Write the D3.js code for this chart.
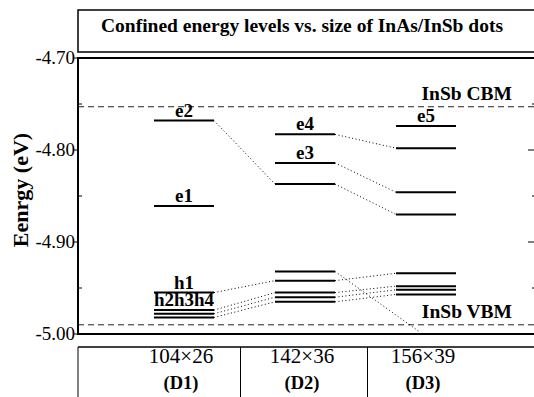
<!DOCTYPE html>
<html>
<head>
<meta charset="utf-8">
<script src="https://cdn.jsdelivr.net/npm/d3@7"></script>
<style>
  body { margin: 0; background: #fff; }
  svg text { font-family: "Liberation Serif", "Times New Roman", Times, "DejaVu Serif", serif; fill: #000; }
</style>
</head>
<body>
<div id="chart"></div>
<script>
// dots and their sizes
const dots = ["D1", "D2", "D3"];
const dotSizes = ["104\u00d726", "142\u00d736", "156\u00d739"];

// confined levels (eV) per dot
const electronLevels = [
  [-4.768, -4.861],
  [-4.783, -4.814, -4.837],
  [-4.774, -4.798, -4.846, -4.870]
];
const holeLevels = [
  [-4.955, -4.974, -4.978, -4.982],
  [-4.932, -4.942, -4.955, -4.960, -4.965],
  [-4.934, -4.948, -4.952, -4.957]
];

// band edges of the InSb matrix
const cbm = -4.753;
const vbm = -4.990;

// level labels: [dot index, energy, text]
const levelLabels = [
  [0, -4.768, "e2"], [0, -4.861, "e1"],
  [1, -4.783, "e4"], [1, -4.814, "e3"],
  [2, -4.774, "e5"],
  [0, -4.955, "h1"], [0, -4.974, "h2h3h4"]
];

// dotted correlation lines: [from dot, from E, to dot, to E]
const links = [
  [0, -4.768, 1, -4.837],
  [1, -4.783, 2, -4.798],
  [1, -4.814, 2, -4.846],
  [1, -4.837, 2, -4.870],
  [0, -4.955, 1, -4.942],
  [0, -4.974, 1, -4.955],
  [0, -4.978, 1, -4.960],
  [0, -4.982, 1, -4.965],
  [1, -4.942, 2, -4.934],
  [1, -4.955, 2, -4.948],
  [1, -4.960, 2, -4.952],
  [1, -4.965, 2, -4.957]
];
// level that leaves the window below the VBM in D3
const lostLink = [1, -4.932, 1.95, -4.998];

const yTicks = [-4.70, -4.80, -4.90, -5.00];
const yMinor = [-4.75, -4.85, -4.95];

const W = 534, H = 397;
const mLeft = 78, mRight = 538, mTop = 58, mBottom = 334;
const halfW = 30;

const svg = d3.select("#chart").append("svg")
  .attr("width", W).attr("height", H)
  .attr("font-family", "Liberation Serif, Times New Roman, serif");

const x = d3.scaleLinear().domain([0, 2]).range([184, 426]);
const y = d3.scaleLinear().domain([-5.0, -4.7]).range([mBottom, mTop]);

// title box
svg.append("rect")
  .attr("x", mLeft).attr("y", 10)
  .attr("width", mRight - mLeft).attr("height", 42)
  .attr("fill", "none").attr("stroke", "#000").attr("stroke-width", 1.5);
svg.append("text")
  .attr("x", 302).attr("y", 32)
  .attr("text-anchor", "middle")
  .attr("font-size", 19.5).attr("font-weight", "bold")
  .text("Confined energy levels vs. size of InAs/InSb dots");

// band edges
const plot = svg.append("g");
[cbm, vbm].forEach(v => {
  plot.append("line")
    .attr("x1", mLeft).attr("x2", mRight)
    .attr("y1", y(v)).attr("y2", y(v))
    .attr("stroke", "#222").attr("stroke-width", 1)
    .attr("stroke-dasharray", "6,4");
});
plot.append("text")
  .attr("x", 512).attr("y", y(cbm) - 7)
  .attr("text-anchor", "end").attr("font-size", 19.5).attr("font-weight", "bold")
  .text("InSb CBM");
plot.append("text")
  .attr("x", 512).attr("y", y(vbm) - 7)
  .attr("text-anchor", "end").attr("font-size", 19.5).attr("font-weight", "bold")
  .text("InSb VBM");

// dotted links
const dotted = plot.append("g")
  .attr("stroke", "#000").attr("stroke-width", 1)
  .attr("stroke-dasharray", "1,2.5").attr("fill", "none");
links.forEach(l => {
  dotted.append("line")
    .attr("x1", x(l[0]) + halfW).attr("y1", y(l[1]))
    .attr("x2", x(l[2]) - halfW).attr("y2", y(l[3]));
});
dotted.append("line")
  .attr("x1", x(lostLink[0]) + halfW).attr("y1", y(lostLink[1]))
  .attr("x2", x(lostLink[2])).attr("y2", y(lostLink[3]));

// levels
const levels = [];
electronLevels.forEach((arr, i) => arr.forEach(v => levels.push([i, v])));
holeLevels.forEach((arr, i) => arr.forEach(v => levels.push([i, v])));
plot.selectAll(".level").data(levels).enter().append("line")
  .attr("class", "level")
  .attr("x1", d => x(d[0]) - halfW).attr("x2", d => x(d[0]) + halfW)
  .attr("y1", d => y(d[1])).attr("y2", d => y(d[1]))
  .attr("stroke", "#000").attr("stroke-width", 2);

plot.selectAll(".lab").data(levelLabels).enter().append("text")
  .attr("class", "lab")
  .attr("x", d => x(d[0]))
  .attr("y", d => y(d[1]) - 4)
  .attr("text-anchor", "middle")
  .attr("font-size", 19).attr("font-weight", "bold")
  .text(d => d[2]);

// plot frame
svg.append("rect")
  .attr("x", mLeft).attr("y", mTop)
  .attr("width", mRight - mLeft).attr("height", mBottom - mTop)
  .attr("fill", "none").attr("stroke", "#000").attr("stroke-width", 2);

// left axis ticks
svg.selectAll(".ytick").data(yTicks).enter().append("line")
  .attr("x1", mLeft - 5).attr("x2", mLeft)
  .attr("y1", d => y(d)).attr("y2", d => y(d))
  .attr("stroke", "#000").attr("stroke-width", 1);
svg.selectAll(".yminor").data(yMinor).enter().append("line")
  .attr("x1", mLeft).attr("x2", mLeft + 4)
  .attr("y1", d => y(d)).attr("y2", d => y(d))
  .attr("stroke", "#000").attr("stroke-width", 1);
svg.selectAll(".ylab").data(yTicks).enter().append("text")
  .attr("x", mLeft - 3).attr("y", d => y(d) + 6)
  .attr("text-anchor", "end").attr("font-size", 19)
  .text(d => d3.format(".2f")(d).replace("\u2212", "-"));

// right axis ticks (inside)
svg.selectAll(".rtick").data(yTicks.slice(1, 3)).enter().append("line")
  .attr("x1", mRight - 10).attr("x2", mRight)
  .attr("y1", d => y(d)).attr("y2", d => y(d))
  .attr("stroke", "#000").attr("stroke-width", 1);
svg.selectAll(".rminor").data(yMinor).enter().append("line")
  .attr("x1", mRight - 6).attr("x2", mRight)
  .attr("y1", d => y(d)).attr("y2", d => y(d))
  .attr("stroke", "#000").attr("stroke-width", 1);

// y axis title
svg.append("text")
  .attr("transform", "translate(28,190) rotate(-90)")
  .attr("text-anchor", "middle")
  .attr("font-size", 22).attr("font-weight", "bold")
  .text("Eenrgy (eV)");

// size table at the bottom
const tableTop = 347;
svg.append("line")
  .attr("x1", mLeft).attr("x2", mRight)
  .attr("y1", tableTop).attr("y2", tableTop)
  .attr("stroke", "#000").attr("stroke-width", 1.5);
[mLeft, (x(0) + x(1)) / 2 - 4, (x(1) + x(2)) / 2 + 2].forEach(xx => {
  svg.append("line")
    .attr("x1", xx).attr("x2", xx)
    .attr("y1", tableTop).attr("y2", H)
    .attr("stroke", "#000").attr("stroke-width", 1);
});
dots.forEach((d, i) => {
  svg.append("text")
    .attr("x", x(i) - 3).attr("y", 363)
    .attr("text-anchor", "middle").attr("font-size", 21)
    .text(dotSizes[i]);
  svg.append("text")
    .attr("x", x(i) - 3).attr("y", 389)
    .attr("text-anchor", "middle").attr("font-size", 18.5).attr("font-weight", "bold")
    .text("(" + d + ")");
});
</script>
</body>
</html>
